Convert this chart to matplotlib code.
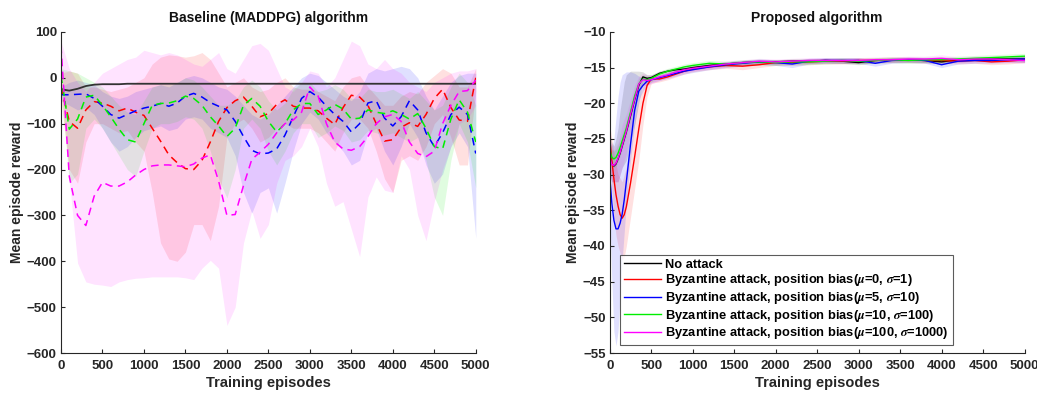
import numpy as np
import matplotlib
matplotlib.use("Agg")
import matplotlib.pyplot as plt

plt.rcParams['font.family'] = ['Liberation Sans', 'DejaVu Sans']
plt.rcParams['font.weight'] = 'bold'
plt.rcParams['mathtext.fontset'] = 'stix'

# --------------------------
# Left panel: baseline (MADDPG), sampled every 100 episodes
# --------------------------
ep_left = np.arange(0, 5001, 100)

base_none = [-25, -28, -24, -18, -15, -14, -14, -14, -13, -13,
             -13, -13, -13, -13, -13, -13, -13, -13, -13, -13,
             -13, -13, -13, -13, -13, -13, -13, -13, -13, -13,
             -13, -13, -13, -13, -13, -13, -13, -13, -13, -13,
             -13, -13, -13, -13, -13, -13, -13, -13, -13, -13, -13]

base_red = [-20, -95, -110, -70, -52, -55, -62, -72, -66, -75,
            -82, -110, -138, -168, -185, -198, -200, -180, -140, -95,
            -65, -50, -42, -62, -85, -78, -58, -48, -62, -66,
            -66, -72, -88, -102, -65, -38, -42, -60, -100, -138,
            -135, -108, -98, -106, -80, -45, -25, -65, -92, -95, 0]
base_red_hi = [10, 15, 10, -20, -20, -25, -30, -25, -20, -10,
               0, 30, 45, 50, 48, 45, 48, 55, 40, 10,
               -20, -10, 0, -20, -30, -25, -10, 0, -20, -25,
               -25, -30, -40, -50, -20, 0, 5, -20, -40, -60,
               -60, -40, -30, -35, -10, 5, 20, 10, -20, -20, 20]
base_red_lo = [-50, -200, -230, -140, -100, -100, -110, -120, -115, -140,
               -160, -250, -360, -395, -400, -380, -320, -320, -355, -280,
               -130, -100, -90, -110, -140, -130, -110, -100, -110, -110,
               -110, -120, -140, -160, -120, -90, -90, -110, -160, -220,
               -250, -180, -170, -180, -150, -100, -80, -130, -190, -190, -30]

base_blue = [-37, -37, -36, -35, -45, -62, -80, -88, -80, -72,
             -66, -62, -56, -62, -55, -40, -34, -42, -54, -62,
             -70, -95, -128, -158, -166, -164, -155, -125, -85, -45,
             -30, -42, -62, -80, -95, -118, -100, -55, -50, -88,
             -105, -85, -50, -70, -120, -150, -120, -80, -64, -80, -165]
base_blue_hi = [-20, -10, -5, -10, -15, -30, -40, -45, -40, -30,
                -25, -20, -15, -20, -10, 0, 5, 0, -10, -20,
                -25, -40, -60, -80, -90, -80, -60, -40, -20, 0,
                10, 5, -10, -25, -40, -50, -30, 10, 20, 15,
                20, 25, 20, 0, -40, -70, -40, -10, 5, 10, 10]
base_blue_lo = [-50, -60, -70, -65, -80, -110, -140, -160, -150, -130,
                -115, -110, -105, -115, -110, -90, -85, -90, -110, -120,
                -130, -170, -250, -295, -250, -240, -295, -230, -160, -100,
                -75, -90, -120, -140, -160, -190, -180, -120, -110, -160,
                -190, -150, -100, -130, -190, -230, -210, -150, -120, -150, -350]

base_green = [5, -112, -90, -42, -38, -60, -85, -112, -135, -140,
              -100, -60, -56, -55, -50, -40, -45, -60, -85, -105,
              -128, -110, -60, -45, -62, -95, -118, -100, -70, -56,
              -56, -80, -70, -58, -68, -90, -88, -70, -75, -78,
              -72, -80, -90, -78, -110, -150, -155, -90, -48, -75, -140]
base_green_hi = [20, 15, 10, 0, -10, -20, -40, -60, -75, -80,
                 -50, -20, -15, -15, -10, 0, -5, -20, -40, -60,
                 -60, -50, -20, -5, -20, -50, -70, -55, -25, -10,
                 -10, -30, -25, -15, -25, -45, -45, -25, -30, -30,
                 -25, -35, -45, -30, -50, -70, -60, -20, 10, -10, -60]
base_green_lo = [-20, -230, -210, -110, -90, -110, -140, -170, -200, -215,
                 -160, -110, -100, -100, -95, -85, -90, -110, -160, -220,
                 -262, -200, -110, -90, -110, -160, -190, -160, -120, -100,
                 -100, -130, -120, -105, -115, -140, -135, -115, -120, -125,
                 -120, -130, -140, -130, -180, -260, -300, -180, -100, -140, -240]

base_mag = [70, -215, -300, -322, -258, -228, -236, -236, -227, -212,
            -200, -192, -190, -190, -192, -194, -188, -175, -168, -225,
            -300, -298, -235, -178, -162, -145, -120, -100, -92, -75,
            -20, -40, -100, -140, -155, -158, -150, -128, -100, -85,
            -80, -95, -140, -165, -172, -160, -100, -60, -30, -28, -5]
base_mag_hi = [80, 20, -10, -30, -10, 10, 20, 30, 40, 45,
               60, 55, 50, 55, 50, 40, 30, 25, 40, 55,
               20, 10, 40, 70, 75, 60, 20, -20, -30, -10,
               15, 10, -20, 0, 40, 80, 70, 30, 20, 40,
               20, 10, -10, -20, -30, -10, 0, 10, 15, 15, 20]
base_mag_lo = [20, -223, -404, -445, -450, -452, -455, -445, -440, -437,
               -436, -434, -434, -434, -434, -436, -440, -415, -398, -415,
               -540, -500, -360, -290, -350, -320, -230, -180, -170, -150,
               -110, -150, -230, -280, -270, -330, -390, -260, -216, -245,
               -250, -170, -200, -300, -355, -270, -200, -150, -100, -90, -60]

# --------------------------
# Right panel: proposed algorithm
# --------------------------
ep_right = [0, 25, 50, 75, 100, 125, 150, 175, 200, 250, 300, 350, 400, 450, 500,
            600, 700, 800, 900, 1000, 1200, 1400, 1600, 1800, 2000, 2200, 2400,
            2600, 2800, 3000, 3200, 3400, 3600, 3800, 4000, 4200, 4400, 4600, 4800, 5000]

prop_none = [-27.0, -28.5, -28.8, -28.5, -27.8, -27.0, -26.0, -25.0, -24.0, -21.8,
             -19.5, -17.5, -16.3, -16.5, -16.4, -15.8, -15.5, -15.3, -15.2, -15.0,
             -14.7, -14.5, -14.3, -14.2, -14.2, -14.1, -14.1, -14.0, -14.1, -14.3,
             -14.0, -13.9, -13.9, -14.0, -14.2, -13.9, -13.8, -13.8, -13.8, -13.8]
prop_none_hi = [-24.0, -25.5, -26.0, -25.0, -23.5, -21.0, -19.0, -17.0, -16.0, -15.5,
                -15.5, -15.5, -15.6, -16.0, -16.0, -15.5, -15.2, -15.0, -14.9, -14.7,
                -14.4, -14.2, -14.0, -13.9, -13.9, -13.8, -13.8, -13.7, -13.8, -14.0,
                -13.7, -13.6, -13.6, -13.7, -13.9, -13.6, -13.5, -13.5, -13.5, -13.3]
prop_none_lo = [-30.0, -31.0, -31.0, -31.0, -31.0, -30.0, -29.0, -28.5, -28.0, -25.5,
                -23.0, -20.0, -17.0, -17.0, -16.8, -16.1, -15.8, -15.6, -15.5, -15.3,
                -15.0, -14.8, -14.6, -14.5, -14.5, -14.4, -14.4, -14.3, -14.4, -14.6,
                -14.3, -14.2, -14.2, -14.3, -14.5, -14.2, -14.1, -14.1, -14.1, -14.3]

prop_red = [-25.0, -28.0, -30.6, -32.8, -34.4, -35.6, -36.1, -35.6, -34.5, -31.2,
            -27.5, -23.6, -20.0, -17.5, -16.6, -16.6, -16.3, -15.9, -15.5, -15.2,
            -14.9, -14.7, -14.8, -14.6, -14.3, -14.3, -14.2, -14.1, -14.1, -14.0,
            -14.0, -13.9, -13.9, -14.0, -14.0, -14.1, -14.0, -14.2, -14.1, -13.9]
prop_red_hi = [-23.0, -25.0, -27.0, -28.5, -30.0, -30.5, -31.0, -30.0, -29.0, -26.0,
               -22.5, -19.5, -17.5, -16.5, -16.2, -16.2, -15.9, -15.5, -15.1, -14.8,
               -14.5, -14.3, -14.3, -14.2, -13.9, -13.9, -13.8, -13.7, -13.7, -13.6,
               -13.6, -13.5, -13.5, -13.6, -13.6, -13.7, -13.6, -13.8, -13.7, -13.4]
prop_red_lo = [-27.0, -32.0, -36.0, -38.5, -40.0, -41.0, -42.0, -41.5, -40.0, -36.0,
               -32.0, -28.0, -23.0, -19.0, -17.2, -17.0, -16.7, -16.3, -15.9, -15.6,
               -15.3, -15.1, -15.3, -15.0, -14.7, -14.7, -14.6, -14.5, -14.5, -14.4,
               -14.4, -14.3, -14.3, -14.4, -14.4, -14.5, -14.4, -14.6, -14.5, -14.3]

prop_blue = [-30.2, -34.0, -36.4, -37.6, -37.6, -36.8, -35.5, -33.5, -31.0, -25.8,
             -21.0, -18.3, -17.5, -16.9, -16.7, -16.4, -16.1, -15.8, -15.5, -15.3,
             -14.9, -14.6, -14.4, -14.2, -14.3, -14.5, -14.1, -14.0, -14.0, -14.0,
             -14.4, -14.0, -13.9, -14.0, -14.6, -14.1, -14.0, -14.0, -13.9, -13.8]
prop_blue_hi = [-25.0, -26.0, -25.0, -22.0, -19.0, -17.0, -16.0, -15.8, -15.6, -15.6,
                -15.8, -16.2, -16.5, -16.4, -16.3, -16.0, -15.7, -15.4, -15.1, -14.9,
                -14.5, -14.2, -14.0, -13.8, -13.9, -14.0, -13.7, -13.6, -13.6, -13.6,
                -14.0, -13.6, -13.5, -13.6, -14.1, -13.7, -13.6, -13.6, -13.5, -13.4]
prop_blue_lo = [-35.0, -45.0, -52.0, -54.0, -52.0, -47.0, -42.0, -38.0, -34.0, -28.0,
                -23.0, -19.5, -18.3, -17.5, -17.1, -16.8, -16.5, -16.2, -15.9, -15.7,
                -15.3, -15.0, -14.8, -14.6, -14.7, -15.0, -14.5, -14.4, -14.4, -14.4,
                -14.8, -14.4, -14.3, -14.4, -15.0, -14.5, -14.4, -14.4, -14.3, -14.2]

prop_green = [-26.5, -27.6, -27.8, -27.6, -27.0, -26.2, -25.3, -24.4, -23.5, -21.3,
              -19.0, -17.3, -16.6, -16.7, -16.5, -15.9, -15.5, -15.2, -14.9, -14.7,
              -14.4, -14.5, -14.3, -14.2, -14.3, -14.2, -14.2, -14.1, -14.0, -14.1,
              -14.0, -13.9, -14.0, -13.9, -13.9, -13.8, -13.7, -13.6, -13.5, -13.4]
prop_green_hi = [-25.5, -26.5, -26.7, -26.4, -25.8, -25.0, -24.2, -23.3, -22.4, -20.3,
                 -18.0, -16.5, -16.0, -16.1, -16.0, -15.5, -15.1, -14.8, -14.5, -14.3,
                 -14.0, -14.1, -13.9, -13.8, -13.9, -13.8, -13.8, -13.7, -13.6, -13.7,
                 -13.6, -13.5, -13.6, -13.5, -13.5, -13.4, -13.3, -13.2, -13.1, -13.0]
prop_green_lo = [-27.5, -28.7, -29.0, -28.8, -28.2, -27.4, -26.4, -25.5, -24.6, -22.3,
                 -20.0, -18.1, -17.2, -17.3, -17.0, -16.3, -15.9, -15.6, -15.3, -15.1,
                 -14.8, -14.9, -14.7, -14.6, -14.7, -14.6, -14.6, -14.5, -14.4, -14.5,
                 -14.4, -14.3, -14.4, -14.3, -14.3, -14.2, -14.1, -14.0, -13.9, -13.8]

prop_mag = [-27.5, -28.6, -28.7, -28.4, -27.7, -26.9, -25.9, -24.9, -23.9, -21.6,
            -19.4, -17.3, -16.7, -16.8, -16.7, -16.3, -16.0, -15.6, -15.3, -15.1,
            -14.8, -14.5, -14.3, -14.1, -14.2, -14.1, -14.0, -14.0, -14.0, -14.0,
            -13.9, -13.9, -13.8, -13.8, -13.7, -13.9, -13.8, -13.8, -13.9, -14.0]
prop_mag_hi = [-25.0, -26.5, -26.5, -26.0, -25.5, -24.3, -23.0, -22.2, -21.5, -19.5,
               -17.5, -16.2, -15.8, -16.0, -16.0, -15.8, -15.5, -15.2, -14.9, -14.7,
               -14.4, -14.1, -13.9, -13.7, -13.8, -13.7, -13.6, -13.6, -13.6, -13.6,
               -13.5, -13.5, -13.4, -13.4, -13.2, -13.5, -13.4, -13.4, -13.5, -13.5]
prop_mag_lo = [-30.0, -31.0, -31.0, -31.0, -31.0, -30.0, -29.0, -28.0, -27.0, -24.0,
               -21.0, -18.5, -17.5, -17.5, -17.3, -16.8, -16.5, -16.0, -15.7, -15.5,
               -15.2, -14.9, -14.7, -14.5, -14.6, -14.5, -14.4, -14.4, -14.4, -14.4,
               -14.3, -14.3, -14.2, -14.2, -14.1, -14.3, -14.2, -14.2, -14.3, -14.4]

legend_labels = ['No attack',
                 r'Byzantine attack, position bias($\mu$=0, $\sigma$=1)',
                 r'Byzantine attack, position bias($\mu$=5, $\sigma$=10)',
                 r'Byzantine attack, position bias($\mu$=10, $\sigma$=100)',
                 r'Byzantine attack, position bias($\mu$=100, $\sigma$=1000)']
colors = ['#000000', '#ff0000', '#0000ff', '#00ee00', '#ff00ff']
band_alpha = [0.12, 0.12, 0.12, 0.12, 0.11]

# --------------------------
# Figure
# --------------------------
fig = plt.figure(figsize=(10.37, 3.94), dpi=100)
ax1 = fig.add_axes([0.0588, 0.104, 0.400, 0.815])
ax2 = fig.add_axes([0.588, 0.104, 0.400, 0.815])

text_col = '#262626'

left_sets = [(base_none, None, None), (base_red, base_red_lo, base_red_hi),
             (base_blue, base_blue_lo, base_blue_hi), (base_green, base_green_lo, base_green_hi),
             (base_mag, base_mag_lo, base_mag_hi)]
for i, (m, lo, hi) in enumerate(left_sets):
    if lo is not None:
        ax1.fill_between(ep_left, lo, hi, color=colors[i], alpha=band_alpha[i], lw=0)
for i, (m, lo, hi) in enumerate(left_sets):
    if i == 0:
        ax1.plot(ep_left, m, color='#333333', lw=1.3)
    else:
        ax1.plot(ep_left, m, color=colors[i], lw=1.1, dashes=(5, 3.5))

right_sets = [(prop_none, prop_none_lo, prop_none_hi), (prop_red, prop_red_lo, prop_red_hi),
              (prop_blue, prop_blue_lo, prop_blue_hi), (prop_green, prop_green_lo, prop_green_hi),
              (prop_mag, prop_mag_lo, prop_mag_hi)]
for i, (m, lo, hi) in enumerate(right_sets):
    ax2.fill_between(ep_right, lo, hi, color=colors[i], alpha=band_alpha[i], lw=0)
handles = []
for i, (m, lo, hi) in enumerate(right_sets):
    h, = ax2.plot(ep_right, m, color=colors[i], lw=1.0, label=legend_labels[i])
    handles.append(h)

ax1.set_xlim(0, 5000)
ax1.set_ylim(-600, 100)
ax1.set_yticks(np.arange(-600, 101, 100))
ax2.set_xlim(0, 5000)
ax2.set_ylim(-55, -10)
ax2.set_yticks(np.arange(-55, -9, 5))

for ax, title in [(ax1, 'Baseline (MADDPG) algorithm'), (ax2, 'Proposed algorithm')]:
    ax.set_xticks(np.arange(0, 5001, 500))
    ax.spines['top'].set_visible(False)
    ax.spines['right'].set_visible(False)
    for s in ['left', 'bottom']:
        ax.spines[s].set_color('#262626')
        ax.spines[s].set_linewidth(0.8)
    ax.tick_params(direction='in', length=3, width=0.8, colors=text_col,
                   labelsize=9.5)
    ax.tick_params(axis='x', pad=5)
    ax.tick_params(axis='y', pad=3)
    for lab in ax.get_xticklabels() + ax.get_yticklabels():
        lab.set_fontweight('bold')
    ax.set_title(title, fontsize=10, fontweight='bold', color='#111111', pad=7)
    ax.set_xlabel('Training episodes', fontsize=10.5, fontweight='bold', color=text_col, labelpad=3)
    ax.set_ylabel('Mean episode reward', fontsize=10, fontweight='bold', color=text_col, labelpad=2)

leg = ax2.legend(handles=handles, loc='lower left', bbox_to_anchor=(0.025, 0.025),
                 fontsize=9.3, frameon=True, fancybox=False, handlelength=2.9,
                 handletextpad=0.3, borderpad=0.3, labelspacing=0.12, borderaxespad=0)
leg.get_frame().set_edgecolor('#333333')
leg.get_frame().set_linewidth(0.8)
for t in leg.get_texts():
    t.set_fontweight('bold')

fig.savefig('out.png', dpi=100)
